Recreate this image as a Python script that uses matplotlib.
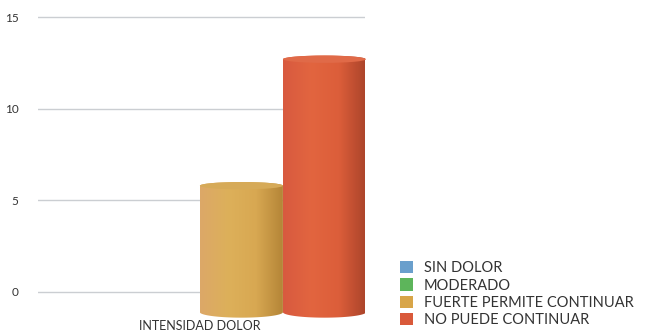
import matplotlib.pyplot as plt
import numpy as np
from matplotlib.patches import Patch, Polygon, Ellipse
from matplotlib.colors import LinearSegmentedColormap

plt.rcParams['font.family'] = ['Lato', 'DejaVu Sans']

category = 'INTENSIDAD DOLOR'
series = ['SIN DOLOR', 'MODERADO', 'FUERTE PERMITE CONTINUAR', 'NO PUEDE CONTINUAR']
values = [0, 0, 6, 12]
legend_colors = ['#6A9FCC', '#5DB55B', '#D8A548', '#D9593A']
yticks = [0, 5, 10, 15]

# shading across each cylinder: (left edge .. right edge), cap colour
shades = {
    2: (['#DCA868', '#DDB05A', '#D8A852', '#B38436'], '#D6AA58'),
    3: (['#D85A40', '#E2653F', '#DC5E3A', '#A9432A'], '#E06A48'),
}

fig = plt.figure(figsize=(6.45, 3.33), dpi=100)
ax = fig.add_axes([38 / 645, 0, (365 - 38) / 645, 1])
ax.set_xlim(0, 1)
ax.set_ylim(-2.237, 15.93)
ax.set_yticks(yticks)
ax.set_xticks([])
ax.yaxis.grid(True, color='#CBCED2', linewidth=1.0)
ax.set_axisbelow(True)
ax.tick_params(axis='y', length=0, pad=14, labelsize=8.5, labelcolor='#333333')
for s in ax.spines.values():
    s.set_visible(False)

center = 0.495
width = 0.254
depth = 1.15     # perspective stretch of the front face
base = -1.1      # cylinder base sits in front of the zero line
e_bot = 0.30     # half height of the bottom ellipse
e_top = 0.20     # half height of the top cap


def cylinder(xc, val, cols, cap):
    r = width / 2
    top = base + val * depth
    th = np.linspace(np.pi, 2 * np.pi, 60)
    bottom_arc = np.column_stack([xc + r * np.cos(th), base + e_bot * np.sin(th)])
    th2 = np.linspace(0, np.pi, 60)
    top_arc = np.column_stack([xc + r * np.cos(th2), top + e_top * np.sin(th2)])
    pts = np.vstack([bottom_arc, top_arc])
    body = Polygon(pts, closed=True, facecolor='none', edgecolor='none')
    ax.add_patch(body)
    body.set_clip_on(False)
    cmap = LinearSegmentedColormap.from_list('cyl', cols)
    grad = np.linspace(0, 1, 256).reshape(1, -1)
    im = ax.imshow(grad, cmap=cmap, aspect='auto', interpolation='bicubic',
                   extent=[xc - r, xc + r, base - e_bot, top + e_top], zorder=3)
    im.set_clip_path(body)
    ax.add_patch(Ellipse((xc, top), 2 * r, 2 * e_top, facecolor=cap,
                         edgecolor='none', zorder=4, clip_on=False))


# soft shadow to the right of the tall cylinder
for i in range(10):
    ax.add_patch(Ellipse((0.92 + i * 0.004, 0.2), 0.16 - i * 0.012, 3.2 - i * 0.25,
                         facecolor='#808080', edgecolor='none', alpha=0.025,
                         zorder=1, clip_on=False))

for i, v in enumerate(values):
    if v > 0:
        xc = center + (i - 1.5) * width
        cylinder(xc, v, *shades[i])

ax.text(center, -1.86, category, ha='center', va='center', fontsize=9,
        color='#333333', clip_on=False)

handles = [Patch(facecolor=c, edgecolor='none') for c in legend_colors]
fig.legend(handles, series, loc='lower left', bbox_to_anchor=(394 / 645, 0.0),
           frameon=False, fontsize=10.5, handlelength=0.9, handleheight=0.9,
           handletextpad=0.75, labelspacing=0.22, borderaxespad=0,
           labelcolor='#333333')

fig.savefig('out.png', dpi=100)
